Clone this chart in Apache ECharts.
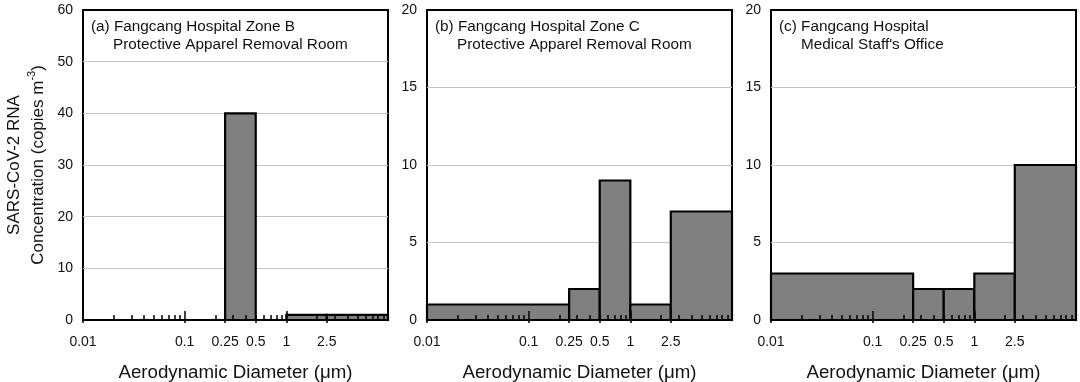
<!DOCTYPE html>
<html>
<head>
<meta charset="utf-8">
<script src="https://cdn.jsdelivr.net/npm/echarts@6/dist/echarts.min.js"></script>
<style>
html,body{margin:0;padding:0;background:#fff;}
#chart{width:1080px;height:382px;}
</style>
</head>
<body>
<div id="chart"></div>
<script>
// ---- data ----
const binEdges = [0.01, 0.25, 0.5, 1, 2.5, 10];
const zoneBRemoval = [0, 40, 0, 1, 1];
const zoneCRemoval = [1, 2, 9, 1, 7];
const staffOffice = [3, 2, 2, 3, 10];
const xTickLabels = [0.01, 0.1, 0.25, 0.5, 1, 2.5];
const minorTicks = [0.02, 0.03, 0.04, 0.05, 0.06, 0.07, 0.08, 0.09,
                    0.2, 0.3, 0.4, 0.5, 0.6, 0.7, 0.8, 0.9,
                    2, 3, 4, 5, 6, 7, 8, 9];
const decadeTicks = [0.1, 1];
const yMaxes = [60, 20, 20];
const yIntervals = [10, 5, 5];
const panelLine1 = ['(a) Fangcang Hospital Zone B', '(b) Fangcang Hospital Zone C', '(c) Fangcang Hospital'];
const panelLine2 = ['Protective Apparel Removal Room', 'Protective Apparel Removal Room', "Medical Staff's Office"];
const xTitle = 'Aerodynamic Diameter (\u03bcm)';

const seriesValues = [zoneBRemoval, zoneCRemoval, staffOffice];
const gridLefts = [83, 427, 771];
const gridWidth = 305;
const FONT = '"Liberation Sans", Arial, sans-serif';
const TXT = '#111';

const chart = echarts.init(document.getElementById('chart'));
const grids = [], xAxes = [], yAxes = [], series = [], graphics = [];
const lg = v => Math.log10(v);

for (let g = 0; g < 3; g++) {
  grids.push({left: gridLefts[g], width: gridWidth, top: 10, bottom: 62,
    outerBoundsMode: 'none', containLabel: false,
    show: true, borderColor: '#000', borderWidth: 2, backgroundColor: 'transparent'});
  // data axis (log)
  xAxes.push({gridIndex: g, type: 'log', logBase: 10, min: 0.01, max: 10,
    axisLine: {show: false}, axisTick: {show: false}, axisLabel: {show: false},
    splitLine: {show: false}, minorTick: {show: false}, minorSplitLine: {show: false}});
  // label axis (log space)
  xAxes.push({gridIndex: g, type: 'value', min: -2, max: 1, position: 'bottom', z: 10,
    axisLine: {show: false}, splitLine: {show: false},
    axisTick: {show: true, inside: false, length: 3, customValues: xTickLabels.map(lg),
      lineStyle: {color: '#000', width: 1.5}},
    axisLabel: {show: true, customValues: xTickLabels.map(lg), margin: 15,
      fontSize: 14, color: TXT, fontFamily: FONT,
      formatter: v => {
        const t = xTickLabels.find(t => Math.abs(lg(t) - v) < 1e-6);
        return t === undefined ? '' : String(t);
      }},
    name: xTitle, nameLocation: 'middle', nameGap: 43,
    nameTextStyle: {fontSize: 18.7, color: TXT, fontFamily: FONT}});
  // minor ticks (inside)
  xAxes.push({gridIndex: g, type: 'value', min: -2, max: 1, position: 'bottom', z: 10,
    axisLine: {show: false}, splitLine: {show: false}, axisLabel: {show: false},
    axisTick: {show: true, inside: true, length: 5, customValues: minorTicks.map(lg),
      lineStyle: {color: '#000', width: 1.5}}});
  // decade ticks (inside, longer)
  xAxes.push({gridIndex: g, type: 'value', min: -2, max: 1, position: 'bottom', z: 10,
    axisLine: {show: false}, splitLine: {show: false}, axisLabel: {show: false},
    axisTick: {show: true, inside: true, length: 9, customValues: decadeTicks.map(lg),
      lineStyle: {color: '#000', width: 1.5}}});

  const y = {gridIndex: g, type: 'value', min: 0, max: yMaxes[g], interval: yIntervals[g],
    axisLine: {show: false}, axisTick: {show: false},
    axisLabel: {fontSize: 14, color: TXT, fontFamily: FONT, margin: 10},
    splitLine: {show: true, showMinLine: false, showMaxLine: false,
      lineStyle: {color: '#c4c4c4', width: 1}}};
  if (g === 0) {
    y.name = '{t|SARS-CoV-2 RNA}\n{t|Concentration (copies m}{s|-3}{t|)}';
    y.nameLocation = 'middle';
    y.nameRotate = 90;
    y.nameGap = 33;
    y.nameTextStyle = {fontFamily: FONT, color: TXT, lineHeight: 24,
      rich: {t: {fontSize: 17, fontFamily: FONT, color: TXT, lineHeight: 24},
             s: {fontSize: 11, fontFamily: FONT, color: TXT, verticalAlign: 'top', lineHeight: 24}}};
  }
  yAxes.push(y);

  const vals = seriesValues[g];
  const data = vals.map((v, i) => [binEdges[i], binEdges[i + 1], v]);
  series.push({type: 'custom', xAxisIndex: g * 4, yAxisIndex: g, data: data,
    encode: {x: [0, 1], y: 2}, z: 2,
    renderItem: (params, api) => {
      const p0 = api.coord([api.value(0), api.value(2)]);
      const p1 = api.coord([api.value(1), 0]);
      return {type: 'rect',
        shape: {x: p0[0], y: p0[1], width: p1[0] - p0[0], height: p1[1] - p0[1]},
        style: {fill: '#808080', stroke: '#000', lineWidth: 2.2}};
    }});

  graphics.push({type: 'text', left: gridLefts[g] + 8, top: 19,
    style: {text: panelLine1[g], fontSize: 15.3, fill: TXT, font: '15.3px ' + FONT}});
  graphics.push({type: 'text', left: gridLefts[g] + 30, top: 37,
    style: {text: panelLine2[g], fontSize: 15.3, fill: TXT, font: '15.3px ' + FONT}});
}

chart.setOption({
  animation: false,
  backgroundColor: '#fff',
  textStyle: {fontFamily: FONT},
  grid: grids, xAxis: xAxes, yAxis: yAxes, series: series, graphic: graphics
});
</script>
</body>
</html>
